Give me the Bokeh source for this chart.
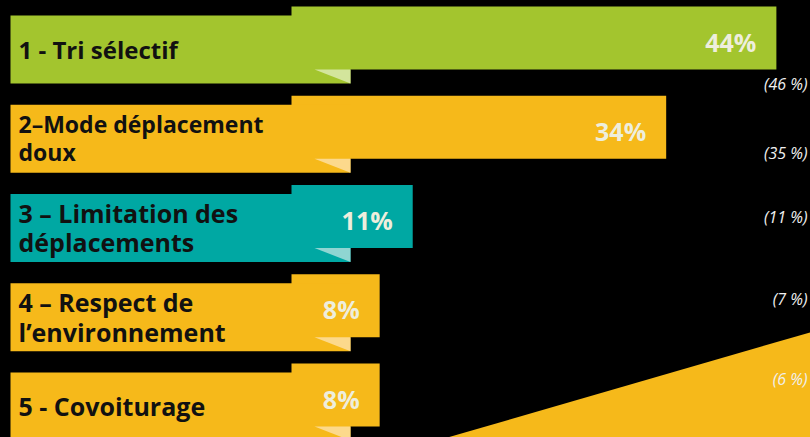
from bokeh.plotting import figure
from bokeh.models import Range1d, ColumnDataSource
from bokeh.core.properties import value
from bokeh.embed import file_html
from bokeh.resources import INLINE

# ---- data ----
labels = ["1 - Tri sélectif",
          "2–Mode déplacement\ndoux",
          "3 – Limitation des\ndéplacements",
          "4 – Respect de\nl’environnement",
          "5 - Covoiturage"]
values = [44, 34, 11, 8, 8]
value_labels = ["44%", "34%", "11%", "8%", "8%"]
previous = ["(46 %)", "(35 %)", "(11 %)", "(7 %)", "(6 %)"]
colors = ["#a3c52e", "#f6b91a", "#00a8a3", "#f6b91a", "#f6b91a"]
fold_colors = ["#d3e59c", "#fcd98c", "#8fd5d2", "#fcd98c", "#fcd98c"]

# ---- layout calibration (page pixels) ----
W, H = 810, 437
OFF = 0
X0_PX, PX_PER_PCT = 291.0, 11.02       # page x of 0 %, pixels per %
Y0_PX, PX_PER_ROW = 37.5, 89.25        # page y of first row centre, row pitch

def xd(px):
    return (px - X0_PX) / PX_PER_PCT

def yd(dpx):
    return dpx / PX_PER_ROW

x_range = Range1d(xd(OFF), xd(OFF + W))
y_range = Range1d((OFF + H - Y0_PX) / PX_PER_ROW, (OFF - Y0_PX) / PX_PER_ROW)

p = figure(width=W, height=H, x_range=x_range, y_range=y_range,
           output_backend="svg", toolbar_location=None,
           background_fill_color="black", border_fill_color="black",
           min_border=0)
p.axis.visible = False
p.grid.visible = False
p.outline_line_color = None

rows = list(range(len(values)))
bar_h = yd(63)
label_sizes = ["24px", "23px", "25px", "25px", "25px"]

src = ColumnDataSource(dict(
    y=rows, v=values, color=colors, fold=fold_colors,
    label=labels, vlab=value_labels, prev=previous, lsize=label_sizes,
    box_top=[r - yd(22.5) for r in rows],
    box_bot=[r + yd(45.5) for r in rows],
    label_y=[r + yd(11) for r in rows],
    vlab_x=[v - 20 / PX_PER_PCT for v in values],
    vlab_y=[r + yd(3.5) for r in rows],
))

# big decorative triangle, bottom right
p.patch([xd(447), xd(830), xd(830)], [yd(437 - Y0_PX), yd(326 - Y0_PX), yd(437 - Y0_PX)],
        fill_color="#f6b91a", line_color=None)

# data bars
p.hbar(y="y", left=0, right="v", height=bar_h, fill_color="color",
       line_color=None, source=src)

# label boxes
p.quad(left=xd(10), right=xd(350), top="box_top", bottom="box_bot",
       fill_color="color", line_color=None, source=src)

# folded corners
fx = [[xd(314), xd(350), xd(350)] for _ in rows]
fy = [[r + bar_h / 2, r + bar_h / 2, r + yd(45.5)] for r in rows]
p.patches(fx, fy, fill_color=fold_colors, line_color=None)

# category labels
p.text(x=xd(18), y="label_y", text="label", source=src,
       text_font=value("Open Sans"), text_font_style="bold",
       text_font_size="lsize", text_color="#111111",
       text_baseline="middle", text_align="left", text_line_height=0.88)

# value labels
p.text(x="vlab_x", y="vlab_y", text="vlab", source=src,
       text_font=value("Open Sans"), text_font_style="bold",
       text_font_size="25px", text_color="#eeeedd",
       text_baseline="middle", text_align="right")

# previous values
prev_y_px = [83, 152, 216, 298, 378]
p.text(x=xd(807), y=[yd(py - Y0_PX) for py in prev_y_px], text=previous,
       text_font=value("Open Sans"), text_font_style="italic",
       text_font_size="16px", text_color="#f0f0f0",
       text_baseline="middle", text_align="right")

html = file_html(p, INLINE)
html = html.replace("</head>", "<style>html,body{background:#000;}</style></head>", 1)
open("out.html", "w").write(html)
